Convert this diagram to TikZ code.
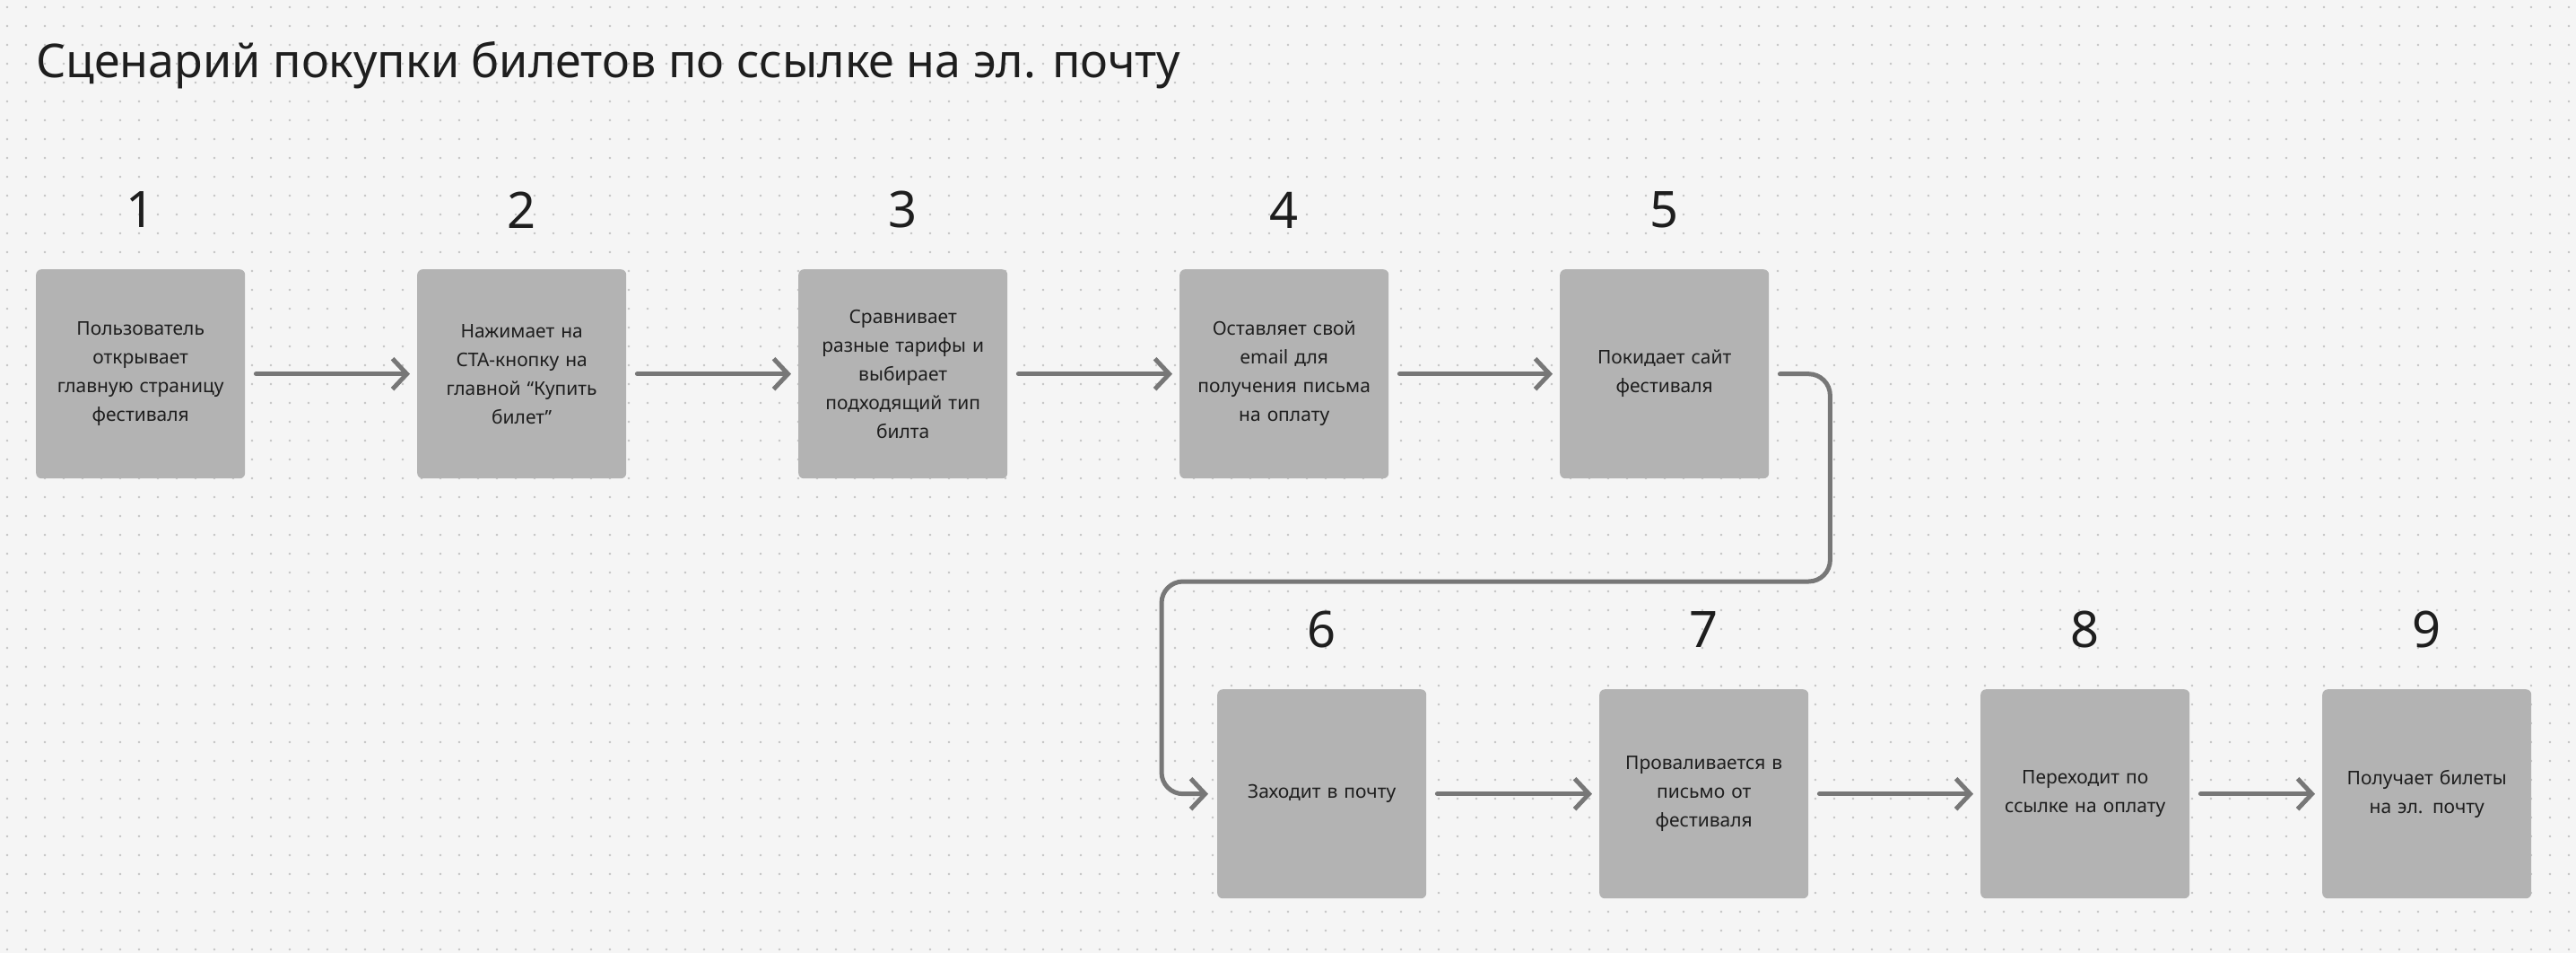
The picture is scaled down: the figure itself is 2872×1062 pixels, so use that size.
\documentclass[tikz,border=0pt]{standalone}
\usepackage{fontspec}
\setmainfont{Noto Sans}
\usetikzlibrary{arrows.meta}
\definecolor{bg}{HTML}{F5F5F5}
\definecolor{dot}{HTML}{C4C4C4}
\definecolor{boxc}{HTML}{B3B3B3}
\definecolor{arr}{HTML}{777777}
\definecolor{txt}{HTML}{1E1E1E}
\begin{document}
\begin{tikzpicture}[x=1pt,y=-1pt,
  box/.style={fill=boxc,rounded corners=6pt,minimum width=233pt,minimum height=233pt,inner sep=0pt,anchor=north west},
  lbl/.style={text=txt,font=\fontsize{21}{32}\selectfont,align=center,text width=200pt},
  num/.style={text=txt,font=\fontsize{56}{60}\selectfont},
  con/.style={draw=arr,line width=5pt,line cap=round,-{Straight Barb[length=16pt,width=34pt,line width=5pt]}}]
\fill[bg] (0,0) rectangle (2872,1062);
\useasboundingbox (0,0) rectangle (2872,1062);
\foreach \i in {0,...,136}{\foreach \j in {0,...,50}{\fill[dot] (\i*21+8,\j*21+8) circle (1.3pt);}}
\node[anchor=west,text=txt,font=\fontsize{52}{60}\selectfont,inner sep=0pt] (title) at (40,73) {Сценарий покупки билетов по ссылке на эл. почту};
\foreach \n/\x/\y/\t in {
 1/40/300/{Пользователь\\открывает\\главную страницу\\фестиваля},
 2/465/300/{Нажимает на\\CTA-кнопку на\\главной “Купить\\билет”},
 3/890/300/{Сравнивает\\разные тарифы и\\выбирает\\подходящий тип\\билта},
 4/1315/300/{Оставляет свой\\email для\\получения письма\\на оплату},
 5/1739/300/{Покидает сайт\\фестиваля},
 6/1357/768/{Заходит в почту},
 7/1783/768/{Проваливается в\\письмо от\\фестиваля},
 8/2208/768/{Переходит по\\ссылке на оплату},
 9/2589/768/{Получает билеты\\на эл. почту}}{
 \node[box] (b\n) at (\x,\y) {};
 \node[lbl] (t\n) at (b\n.center) {\t};
 \node[num,yshift=66pt] (n\n) at (b\n.north) {\n};
}
\foreach \a/\b in {1/2,2/3,3/4,4/5,6/7,7/8,8/9}{
 \draw[con] ([xshift=12pt]b\a.east) -- ([xshift=-8pt]b\b.west);}
\coordinate (s5) at ([xshift=12pt]b5.east);
\draw[con,rounded corners=24pt] (s5) -- ++(56,0) |- (1295,648) |- ([xshift=-10pt]b6.west);
\end{tikzpicture}
\end{document}
